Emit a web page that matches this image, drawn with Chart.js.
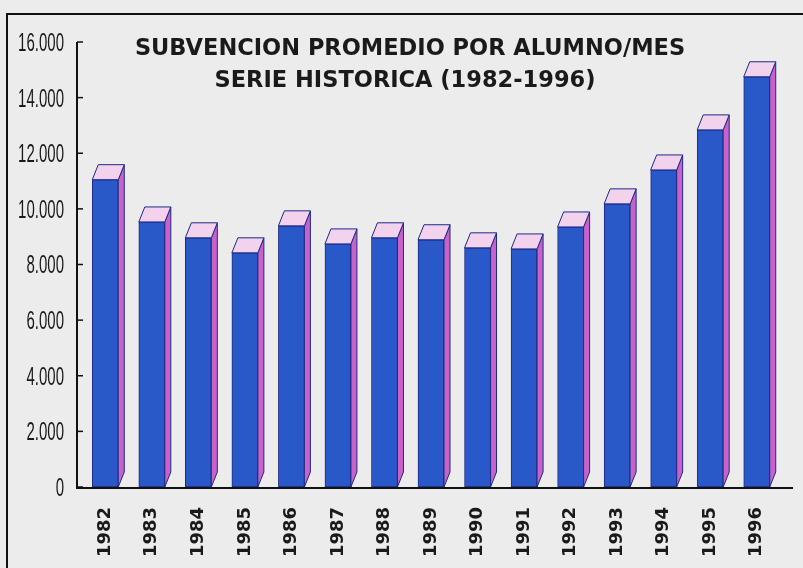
<!DOCTYPE html>
<html>
<head>
<meta charset="utf-8">
<script src="https://cdn.jsdelivr.net/npm/chart.js@4/dist/chart.umd.min.js"></script>
<style>
  html, body { margin: 0; padding: 0; background: #ececec; }
  #wrap { width: 803px; height: 568px; position: relative; }
</style>
</head>
<body>
<div id="wrap"><canvas id="chart"></canvas></div>
<script>
// data
const years = ['1982', '1983', '1984', '1985', '1986', '1987', '1988', '1989',
               '1990', '1991', '1992', '1993', '1994', '1995', '1996'];
const subvencion = [11050, 9530, 8960, 8420, 9390, 8740, 8960, 8890,
                    8600, 8560, 9350, 10180, 11400, 12840, 14750];
const yTicks = [0, 2000, 4000, 6000, 8000, 10000, 12000, 14000, 16000];
const titleLines = ['SUBVENCION PROMEDIO POR ALUMNO/MES', 'SERIE HISTORICA (1982-1996)'];

const blue = '#2958c8';
const navy = '#1c2a86';
const topPink = '#f2d2ec';
const sidePink = '#c862c8';

function miles(v) {
  return v.toString().replace(/\B(?=(\d{3})+(?!\d))/g, '.');
}

// page background + frame
const pagePlugin = {
  id: 'page',
  beforeDraw(chart) {
    const ctx = chart.ctx;
    ctx.save();
    ctx.fillStyle = '#ececec';
    ctx.fillRect(0, 0, chart.width, chart.height);
    ctx.strokeStyle = '#111';
    ctx.lineWidth = 2;
    ctx.beginPath();
    ctx.moveTo(chart.width, 14);
    ctx.lineTo(7, 14);
    ctx.lineTo(7, chart.height);
    ctx.stroke();
    ctx.restore();
  }
};

// top and side faces of the 3d bars, axes, narrow y labels and title
const boxPlugin = {
  id: 'box3d',
  afterDatasetsDraw(chart) {
    const ctx = chart.ctx;
    const dx = 6, dy = 15;
    ctx.save();
    ctx.lineWidth = 1;
    ctx.strokeStyle = navy;
    chart.getDatasetMeta(0).data.forEach(bar => {
      const l = bar.x - bar.width / 2, r = bar.x + bar.width / 2;
      const t = bar.y, b = bar.base;
      // side
      ctx.beginPath();
      ctx.moveTo(r, t);
      ctx.lineTo(r + dx, t - dy);
      ctx.lineTo(r + dx, b - dy);
      ctx.lineTo(r, b);
      ctx.closePath();
      ctx.fillStyle = sidePink;
      ctx.fill();
      ctx.stroke();
      // top
      ctx.beginPath();
      ctx.moveTo(l, t);
      ctx.lineTo(l + dx, t - dy);
      ctx.lineTo(r + dx, t - dy);
      ctx.lineTo(r, t);
      ctx.closePath();
      ctx.fillStyle = topPink;
      ctx.fill();
      ctx.stroke();
    });

    // axes
    const ys = chart.scales.y;
    const axX = chart.chartArea.left - 5;
    const base = ys.getPixelForValue(0) + 1;
    ctx.strokeStyle = '#111';
    ctx.lineWidth = 2;
    ctx.beginPath();
    ctx.moveTo(axX, ys.getPixelForValue(16000));
    ctx.lineTo(axX, base);
    ctx.lineTo(chart.width - 10, base);
    ctx.stroke();
    ctx.lineWidth = 1.5;
    ctx.fillStyle = '#1a1a1a';
    ctx.font = '25px "Liberation Sans"';
    ctx.textAlign = 'right';
    ctx.textBaseline = 'middle';
    yTicks.forEach(v => {
      const y = ys.getPixelForValue(v);
      ctx.beginPath();
      ctx.moveTo(axX, y);
      ctx.lineTo(axX + 6, y);
      ctx.stroke();
      // condensed tick label
      ctx.save();
      ctx.translate(64, y + 2);
      ctx.scale(0.6, 1);
      ctx.fillText(miles(v), 0, 0);
      ctx.restore();
    });

    // title
    ctx.fillStyle = '#1a1a1a';
    ctx.font = 'bold 22.5px "DejaVu Sans"';
    ctx.textAlign = 'center';
    ctx.textBaseline = 'alphabetic';
    ctx.fillText(titleLines[0], 410, 55);
    ctx.fillText(titleLines[1], 405, 87);
    ctx.restore();
  }
};

new Chart(document.getElementById('chart'), {
  type: 'bar',
  data: {
    labels: years,
    datasets: [{
      data: subvencion,
      backgroundColor: blue,
      borderColor: navy,
      borderWidth: 1,
      borderSkipped: false,
      barThickness: 26
    }]
  },
  options: {
    responsive: true,
    maintainAspectRatio: false,
    animation: false,
    layout: { padding: { top: 42, right: 23, bottom: 0, left: 0 } },
    plugins: {
      legend: { display: false },
      tooltip: { enabled: false }
    },
    scales: {
      x: {
        grid: { display: false, drawTicks: false },
        border: { display: false },
        ticks: {
          minRotation: 90,
          maxRotation: 90,
          padding: 20,
          color: '#1a1a1a',
          font: { family: '"DejaVu Sans"', weight: 'bold', size: 18 }
        },
        afterFit(s) { s.height = 81; }
      },
      y: {
        min: 0,
        max: 16000,
        grid: { display: false, drawTicks: false },
        border: { display: false },
        ticks: { display: false, stepSize: 2000 },
        afterFit(s) { s.width = 82; }
      }
    }
  },
  plugins: [pagePlugin, boxPlugin]
});
</script>
</body>
</html>
